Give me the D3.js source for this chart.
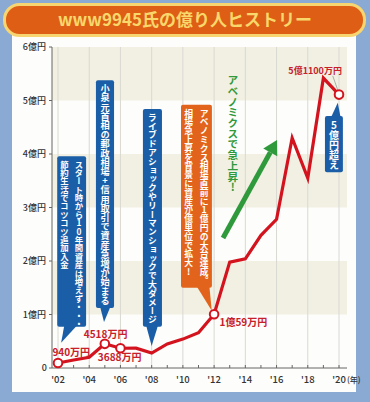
<!DOCTYPE html>
<html>
<head>
<meta charset="utf-8">
<script src="https://cdn.jsdelivr.net/npm/d3@7"></script>
<style>
  body { margin: 0; background: #8aaad3; }
  svg { display: block; }
  text { font-family: "Noto Sans CJK JP", "Noto Sans", sans-serif; }
  .tick-label { font-size: 9px; fill: #333; font-weight: 500; }
  .val-label { font-size: 10px; fill: #c8202a; font-weight: 700; }
  .vtext { writing-mode: vertical-rl; text-orientation: upright; font-weight: 700; fill: #fff; }
</style>
</head>
<body>
<script>
// ============================================================
// www9945氏の億り人ヒストリー
// assets per year in 億円, red line with callouts
// ============================================================

var years  = [2002, 2003, 2004, 2005, 2006, 2007, 2008, 2009, 2010, 2011,
              2012, 2013, 2014, 2015, 2016, 2017, 2018, 2019, 2020];
var assets = [0.094, 0.15, 0.20, 0.4518, 0.3688, 0.37, 0.28, 0.45, 0.54, 0.66,
              1.0059, 1.98, 2.04, 2.48, 2.78, 4.30, 3.55, 5.42, 5.11];

var yTicks      = [0, 1, 2, 3, 4, 5, 6];
var yTickLabels = ["0", "1億円", "2億円", "3億円", "4億円", "5億円", "6億円"];
var xTicks      = [2002, 2004, 2006, 2008, 2010, 2012, 2014, 2016, 2018, 2020];
var xTickLabels = ["'02", "'04", "'06", "'08", "'10", "'12", "'14", "'16", "'18", "'20"];

// marked points and their labels
var markYears  = [2002, 2005, 2006, 2012, 2020];
var markLabels = ["940万円", "4518万円", "3688万円", "1億59万円", "5億1100万円"];

// callout texts (columns right to left)
var noteTexts = [
    ["スタート時から10年間資産は増えず・・・", "節約生活でコツコツ追加入金"],
    ["小泉元首相の郵政相場+信用取引で資産急増が始まる"],
    ["ライブドアショックやリーマンショックで大ダメージ"],
    ["アベノミクス相場直前に1億円の大台達成。", "相場急上昇を背景に資産が億単位で拡大!"],
    ["5億円超え"]
];
var title = "www9945氏の億り人ヒストリー";
var arrowText = "アベノミクスで急上昇!";

var w = 370, h = 402;
var blue = "#1b5ea8", orange = "#e2641c", red = "#d3141f", green = "#2f9a3c";

var svg = d3.select("body").append("svg")
    .attr("width", w)
    .attr("height", h);

// white panel
svg.append("rect")
    .attr("x", 12).attr("y", 20)
    .attr("width", 344).attr("height", 372)
    .attr("fill", "#fdfdfb");

var x = d3.scaleLinear().domain([2002, 2020]).range([58, 339]);
var y = d3.scaleLinear().domain([0, 6]).range([368, 47]);

var xLeft = 52, xRight = 347;

// alternating bands
[1, 3, 5].forEach(function(v) {
    svg.append("rect")
        .attr("x", xLeft)
        .attr("y", y(v + 1))
        .attr("width", xRight - xLeft)
        .attr("height", y(v) - y(v + 1))
        .attr("fill", "#f1f0e3");
});

// vertical grid at even years
xTicks.forEach(function(t) {
    svg.append("line")
        .attr("x1", x(t)).attr("x2", x(t))
        .attr("y1", y(6)).attr("y2", y(0))
        .attr("stroke", "#d9d9d2")
        .attr("stroke-width", 1);
});

// axes
svg.append("line")
    .attr("x1", xLeft).attr("x2", xLeft)
    .attr("y1", y(6)).attr("y2", y(0))
    .attr("stroke", "#666").attr("stroke-width", 1);
svg.append("line")
    .attr("x1", xLeft).attr("x2", xRight)
    .attr("y1", y(0)).attr("y2", y(0))
    .attr("stroke", "#666").attr("stroke-width", 1);

yTicks.forEach(function(t, i) {
    svg.append("line")
        .attr("x1", xLeft - 3).attr("x2", xLeft)
        .attr("y1", y(t)).attr("y2", y(t))
        .attr("stroke", "#666");
    svg.append("text")
        .attr("class", "tick-label")
        .attr("x", t === 0 ? 47 : 46)
        .attr("y", y(t) + 3)
        .attr("text-anchor", "end")
        .text(yTickLabels[i]);
});

years.forEach(function(t) {
    svg.append("line")
        .attr("x1", x(t)).attr("x2", x(t))
        .attr("y1", y(0) - 3).attr("y2", y(0))
        .attr("stroke", "#666");
});

xTicks.forEach(function(t, i) {
    svg.append("text")
        .attr("class", "tick-label")
        .attr("x", x(t))
        .attr("y", y(0) + 15)
        .attr("text-anchor", "middle")
        .style("font-size", "9.5px")
        .text(xTickLabels[i]);
});
svg.append("text")
    .attr("class", "tick-label")
    .attr("x", x(2020) + 8)
    .attr("y", y(0) + 15)
    .style("font-size", "8px")
    .text("(年)");

// callout boxes: box extent in years / 億, pointer base and tip
var noteLayout = [
    { x0: 2001.95, x1: 2003.8,  top: 3.96, bottom: 0.77, base: [2002.4, 2003.2],  tip: [2002.2, 0.47], fill: blue, fs: 8.4 },
    { x0: 2004.43, x1: 2005.59, top: 5.38, bottom: 1.12, base: [2004.7, 2005.35], tip: [2004.95, 0.86], fill: blue, fs: 9.2 },
    { x0: 2007.44, x1: 2008.66, top: 4.84, bottom: 0.77, base: [2007.65, 2008.4], tip: [2008.0, 0.41], fill: blue, fs: 8.8 },
    { x0: 2009.88, x1: 2011.86, top: 4.92, bottom: 1.50, base: [2010.9, 2011.7],  tip: [2011.85, 1.07], fill: orange, fs: 8.8 },
    { x0: 2019.1,  x1: 2020.25, top: 4.71, bottom: 3.66, base: [2019.5, 2020.1],  tip: [2019.92, 4.96], fill: blue, fs: 10, up: true }
];

noteLayout.forEach(function(n, i) {
    var bx0 = x(n.x0), bx1 = x(n.x1), by0 = y(n.top), by1 = y(n.bottom);
    var g = svg.append("g");
    g.append("rect")
        .attr("x", bx0).attr("y", by0)
        .attr("width", bx1 - bx0).attr("height", by1 - by0)
        .attr("rx", 2)
        .attr("fill", n.fill);
    var baseY = n.up ? by0 + 1 : by1 - 1;
    g.append("path")
        .attr("d", "M" + x(n.base[0]) + "," + baseY +
                   "L" + x(n.tip[0]) + "," + y(n.tip[1]) +
                   "L" + x(n.base[1]) + "," + baseY + "Z")
        .attr("fill", n.fill);

    // columns right to left, x is the column centre
    var cols = noteTexts[i];
    var colW = (bx1 - bx0) / cols.length;
    cols.forEach(function(c, j) {
        g.append("text")
            .attr("class", "vtext")
            .attr("x", bx1 - colW * (j + 0.5))
            .attr("y", by0 + 4)
            .style("font-size", n.fs + "px")
            .text(c);
    });
});

// green arrow
var ax0 = x(2012.57), ay0 = y(2.43), ax1 = x(2016.03), ay1 = y(4.26);
var ang = Math.atan2(ay1 - ay0, ax1 - ax0);
var headL = 14, headW = 8;
var hx = ax1 - headL * Math.cos(ang), hy = ay1 - headL * Math.sin(ang);
svg.append("line")
    .attr("x1", ax0).attr("y1", ay0)
    .attr("x2", hx).attr("y2", hy)
    .attr("stroke", green).attr("stroke-width", 5);
svg.append("path")
    .attr("d", "M" + ax1 + "," + ay1 +
               "L" + (hx + headW * Math.sin(ang)) + "," + (hy - headW * Math.cos(ang)) +
               "L" + (hx - headW * Math.sin(ang)) + "," + (hy + headW * Math.cos(ang)) + "Z")
    .attr("fill", green);

svg.append("text")
    .attr("class", "vtext")
    .attr("x", x(2013.2))
    .attr("y", y(5.48))
    .style("font-size", "10.7px")
    .style("fill", green)
    .text(arrowText);

// asset line
var line = d3.line()
    .x(function(d, i) { return x(years[i]); })
    .y(function(d) { return y(d); });

svg.append("path")
    .datum(assets)
    .attr("d", line)
    .attr("fill", "none")
    .attr("stroke", red)
    .attr("stroke-width", 3.2)
    .attr("stroke-linejoin", "miter");

// leader from top label to last point
svg.append("line")
    .attr("x1", x(2019.6)).attr("y1", y(5.46))
    .attr("x2", x(2019.95)).attr("y2", y(5.17))
    .attr("stroke", "#999").attr("stroke-width", 0.8);

markYears.forEach(function(t, i) {
    var v = assets[years.indexOf(t)];
    svg.append("circle")
        .attr("cx", x(t)).attr("cy", y(v))
        .attr("r", 4.3)
        .attr("fill", "#fff")
        .attr("stroke", red)
        .attr("stroke-width", 2);
});

// value labels
var labelPos = [
    { t: 2002.85, v: 0.22, anchor: "middle" },
    { t: 2005.05, v: 0.56, anchor: "middle" },
    { t: 2005.95, v: 0.13, anchor: "middle" },
    { t: 2012.35, v: 0.79, anchor: "start" },
    { t: 2018.47, v: 5.5,  anchor: "middle" }
];
labelPos.forEach(function(p, i) {
    svg.append("text")
        .attr("class", "val-label")
        .attr("x", x(p.t))
        .attr("y", y(p.v))
        .attr("text-anchor", p.anchor)
        .style("font-size", i === 4 ? "9px" : "10px")
        .text(markLabels[i]);
});

// title bar
svg.append("rect")
    .attr("x", 4.5).attr("y", 4.5)
    .attr("width", 360).attr("height", 31)
    .attr("rx", 15)
    .attr("fill", "#df5e16")
    .attr("stroke", "#f7d672")
    .attr("stroke-width", 3);

svg.append("text")
    .attr("x", w / 2)
    .attr("y", 26)
    .attr("text-anchor", "middle")
    .style("font-size", "17px")
    .style("font-weight", 700)
    .style("fill", "#f8d86a")
    .text(title);
</script>
</body>
</html>
